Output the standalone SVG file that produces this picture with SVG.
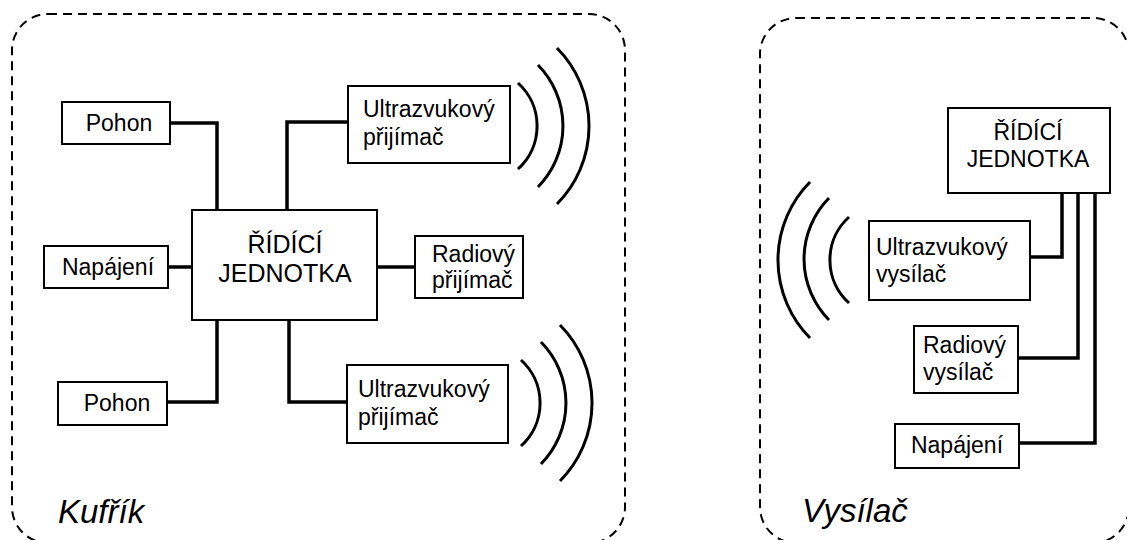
<svg xmlns="http://www.w3.org/2000/svg" width="1127" height="540" viewBox="0 0 1127 540">
<style>
.frame{fill:none;stroke:#000;stroke-width:2;stroke-dasharray:9 6}
.box{fill:#fff;stroke:#000;stroke-width:2}
.wire{fill:none;stroke:#000;stroke-width:3.5;stroke-linejoin:miter}
.wave{fill:none;stroke:#000;stroke-width:3;stroke-linecap:butt}
text{font-family:"Liberation Sans",Arial,sans-serif;font-size:23px;fill:#000}
.big{font-size:25px}
.mid{text-anchor:middle}
.title{font-size:33px;font-style:italic}
</style>
<rect width="1127" height="540" fill="#fff"/>
<g id="container-kufrik">
<rect class="frame" x="12" y="14" width="613" height="529" rx="36"/>
<text class="title" x="58" y="523">Kufřík</text>
</g>
<g id="container-vysilac">
<rect class="frame" x="760" y="18" width="369" height="525" rx="36"/>
<text class="title" x="802" y="522">Vysílač</text>
</g>
<g id="connectors">
<polyline class="wire" points="170,123 217,123 217,210"/>
<polyline class="wire" points="287,210 287,122 348,122"/>
<line class="wire" x1="168" y1="267" x2="192" y2="267"/>
<line class="wire" x1="377" y1="267" x2="415" y2="267"/>
<polyline class="wire" points="167,402 217,402 217,320"/>
<polyline class="wire" points="289,320 289,402 347,402"/>
<polyline class="wire" points="1062,193 1062,257 1030,257"/>
<polyline class="wire" points="1078,193 1078,358 1018,358"/>
<polyline class="wire" points="1095,193 1095,443 1019,443"/>
</g>
<g id="waves-top">
<path class="wave" d="M518 83 A58 58 0 0 1 518 169"/>
<path class="wave" d="M538 65 A87 87 0 0 1 538 187"/>
<path class="wave" d="M557 48 A111 111 0 0 1 557 204"/>
</g>
<g id="waves-bottom">
<path class="wave" d="M521 360 A58 58 0 0 1 521 446"/>
<path class="wave" d="M541 342 A87 87 0 0 1 541 464"/>
<path class="wave" d="M560 325 A111 111 0 0 1 560 481"/>
</g>
<g id="waves-right">
<path class="wave" d="M849 217 A58 58 0 0 0 849 303"/>
<path class="wave" d="M829 198 A87 87 0 0 0 829 320"/>
<path class="wave" d="M810 182 A111 111 0 0 0 810 338"/>
</g>
<g id="pohon-top">
<rect class="box" x="62" y="102" width="108" height="42"/>
<text class="mid" x="119" y="131">Pohon</text>
</g>
<g id="napajeni-left">
<rect class="box" x="44" y="246" width="124" height="42"/>
<text class="mid" x="108" y="275">Napájení</text>
</g>
<g id="pohon-bottom">
<rect class="box" x="58" y="382" width="109" height="43"/>
<text class="mid" x="117" y="411">Pohon</text>
</g>
<g id="ridici-jednotka-left">
<rect class="box" x="192" y="210" width="185" height="110"/>
<text class="big mid" x="285" y="253">ŘÍDÍCÍ</text>
<text class="big mid" x="285" y="282">JEDNOTKA</text>
</g>
<g id="radiovy-prijimac">
<rect class="box" x="415" y="236" width="108" height="62"/>
<text x="432" y="262">Radiový</text>
<text x="432" y="288">přijímač</text>
</g>
<g id="ultrazvukovy-prijimac-top">
<rect class="box" x="348" y="86" width="162" height="77"/>
<text x="363" y="117">Ultrazvukový</text>
<text x="363" y="145">přijímač</text>
</g>
<g id="ultrazvukovy-prijimac-bottom">
<rect class="box" x="347" y="365" width="161" height="78"/>
<text x="358" y="397">Ultrazvukový</text>
<text x="358" y="425">přijímač</text>
</g>
<g id="ridici-jednotka-right">
<rect class="box" x="948" y="108" width="162" height="85"/>
<text class="mid" x="1028" y="140">ŘÍDÍCÍ</text>
<text class="mid" x="1028" y="167">JEDNOTKA</text>
</g>
<g id="ultrazvukovy-vysilac">
<rect class="box" x="869" y="221" width="161" height="79"/>
<text x="876" y="255">Ultrazvukový</text>
<text x="876" y="282">vysílač</text>
</g>
<g id="radiovy-vysilac">
<rect class="box" x="914" y="326" width="104" height="67"/>
<text x="923" y="353">Radiový</text>
<text x="923" y="380">vysílač</text>
</g>
<g id="napajeni-right">
<rect class="box" x="895" y="424" width="124" height="44"/>
<text class="mid" x="957" y="453">Napájení</text>
</g>
</svg>
